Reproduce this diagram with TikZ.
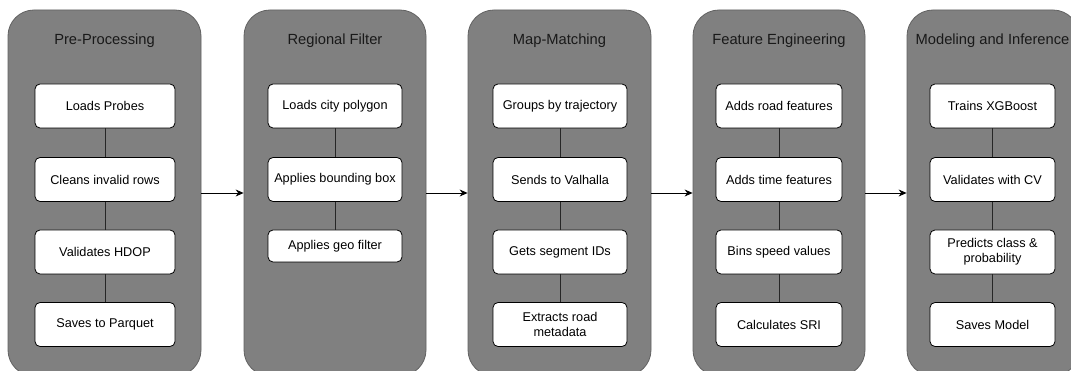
\documentclass[tikz,border=0pt]{standalone}
\usepackage{fontspec}
\setmainfont{Liberation Sans}
\usetikzlibrary{arrows.meta}
\begin{document}
\begin{tikzpicture}[x=1pt,y=-1pt,
  stage/.style={draw=black!62, fill=black!50, line width=0.8pt, rounded corners=26pt, inner sep=0pt, minimum height=366pt},
  stagetitle/.style={font=\fontsize{14.7}{17}\selectfont, text=black!90, anchor=center, inner sep=0pt},
  stepbox/.style={draw=black, fill=white, rounded corners=5pt, line width=0.8pt, minimum height=44pt, align=center, font=\fontsize{12.7}{15}\selectfont, inner sep=2pt},
  link/.style={draw=black!85, line width=0.8pt},
  flow/.style={draw=black, line width=0.8pt, -{Stealth[length=8pt,width=7pt]}}]
\useasboundingbox (0,0) rectangle (1071,371);
% stages
\node[stage, minimum width=193pt] (s1) at (104.5,193) {};
\node[stage, minimum width=182pt] (s2) at (335,193) {};
\node[stage, minimum width=183pt] (s3) at (559.5,193) {};
\node[stage, minimum width=172pt] (s4) at (779,193) {};
\node[stage, minimum width=172pt] (s5) at (993,193) {};
% titles
\node[stagetitle] (t1) at (104.5,41) {Pre-Processing};
\node[stagetitle] (t2) at (335,41) {Regional Filter};
\node[stagetitle] (t3) at (559.5,41) {Map-Matching};
\node[stagetitle] (t4) at (779,41) {Feature Engineering};
\node[stagetitle] (t5) at (992.5,41) {Modeling and Inference};
% stage 1
\node[stepbox, minimum width=140pt] (a1) at (105,106) {Loads Probes};
\node[stepbox, minimum width=140pt] (a2) at (105,179.5) {Cleans invalid rows};
\node[stepbox, minimum width=140pt] (a3) at (105,252) {Validates HDOP};
\node[stepbox, minimum width=140pt] (a4) at (105,324.5) {Saves to Parquet};
% stage 2
\node[stepbox, minimum width=134pt] (b1) at (335,106) {Loads city polygon};
\node[stepbox, minimum width=134pt] (b2) at (335,179.5) {Applies bounding box};
\node[stepbox, minimum width=134pt, minimum height=32pt] (b3) at (335,246) {Applies geo filter};
% stage 3
\node[stepbox, minimum width=134pt] (c1) at (560,106) {Groups by trajectory};
\node[stepbox, minimum width=134pt] (c2) at (560,179.5) {Sends to Valhalla};
\node[stepbox, minimum width=134pt] (c3) at (560,252) {Gets segment IDs};
\node[stepbox, minimum width=134pt] (c4) at (560,324.5) {Extracts road\\metadata};
% stage 4
\node[stepbox, minimum width=126pt] (d1) at (779,106) {Adds road features};
\node[stepbox, minimum width=126pt] (d2) at (779,179.5) {Adds time features};
\node[stepbox, minimum width=126pt] (d3) at (779,252) {Bins speed values};
\node[stepbox, minimum width=126pt] (d4) at (779,324.5) {Calculates SRI};
% stage 5
\node[stepbox, minimum width=125pt] (e1) at (992.5,106) {Trains XGBoost};
\node[stepbox, minimum width=125pt] (e2) at (992.5,179.5) {Validates with CV};
\node[stepbox, minimum width=125pt] (e3) at (992.5,252) {Predicts class \&\\probability};
\node[stepbox, minimum width=125pt] (e4) at (992.5,324.5) {Saves Model};
% links
\foreach \p in {a,c,d,e}{
  \draw[link] (\p1.south) -- (\p2.north);
  \draw[link] (\p2.south) -- (\p3.north);
  \draw[link] (\p3.south) -- (\p4.north);
}
\draw[link] (b1.south) -- (b2.north);
\draw[link] (b2.south) -- (b3.north);
% flow arrows
\draw[flow] (s1.east) -- (s2.west);
\draw[flow] (s2.east) -- (s3.west);
\draw[flow] (s3.east) -- (s4.west);
\draw[flow] (s4.east) -- (s5.west);
\end{tikzpicture}
\end{document}
